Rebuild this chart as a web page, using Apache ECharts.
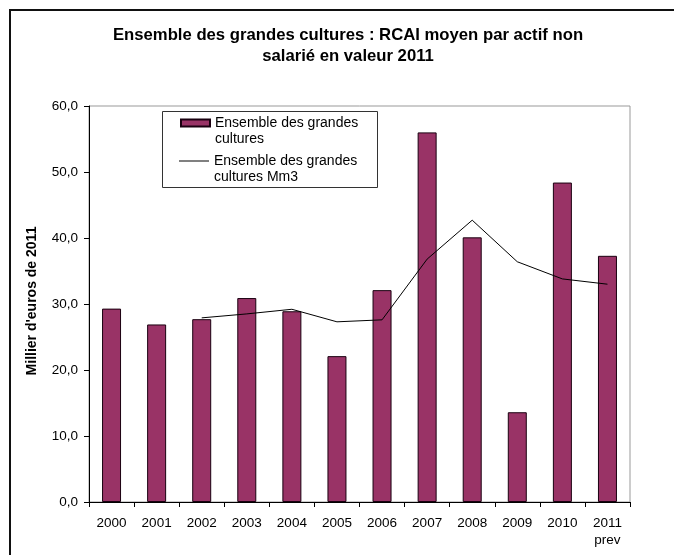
<!DOCTYPE html>
<html>
<head>
<meta charset="utf-8">
<script src="https://cdn.jsdelivr.net/npm/echarts@6/dist/echarts.min.js"></script>
<style>
  html, body { margin: 0; padding: 0; background: #fff; }
  #chart { width: 674px; height: 555px; }
</style>
</head>
<body>
<div id="chart"></div>
<script>
// valeurs
var years = ['2000', '2001', '2002', '2003', '2004', '2005', '2006', '2007', '2008', '2009', '2010', '2011\nprev'];
var rcai = [29.3, 26.9, 27.7, 30.9, 28.9, 22.1, 32.1, 56.0, 40.1, 13.6, 48.4, 37.3];
var rcaiMm3 = [null, null, 27.9, 28.5, 29.2, 27.3, 27.6, 36.8, 42.7, 36.4, 33.8, 33.0];
var yTicks = [0, 10, 20, 30, 40, 50, 60];

var font = 'Liberation Sans, Arial, sans-serif';
var nameBars = 'Ensemble des grandes cultures';
var nameLine = 'Ensemble des grandes cultures Mm3';

var chart = echarts.init(document.getElementById('chart'), null, { renderer: 'canvas' });

var legendText = {
  fontFamily: font,
  fontSize: 14,
  color: '#000',
  lineHeight: 16
};

chart.setOption({
  animation: false,
  backgroundColor: '#fff',
  title: {
    text: 'Ensemble des grandes cultures : RCAI moyen par actif non\nsalarié en valeur 2011',
    left: 348,
    top: 25,
    padding: 0,
    textAlign: 'center',
    textStyle: {
      fontFamily: font,
      fontSize: 16.7,
      fontWeight: 'bold',
      color: '#000',
      lineHeight: 21
    }
  },
  legend: [
    {
      data: [{ name: nameBars, icon: 'rect' }],
      left: 180,
      top: 99,
      padding: 0,
      itemWidth: 29,
      itemHeight: 7,
      // ligne vide en tête pour aligner le symbole sur la 1re ligne
      formatter: function () { return ' \nEnsemble des grandes\ncultures'; },
      textStyle: legendText
    },
    {
      data: [{ name: nameLine, icon: 'rect' }],
      left: 179,
      top: 137,
      padding: 0,
      itemWidth: 30,
      itemHeight: 1,
      formatter: function () { return ' \nEnsemble des grandes\ncultures Mm3'; },
      textStyle: legendText
    }
  ],
  graphic: [
    {
      type: 'rect',
      shape: { x: 10, y: 10, width: 700, height: 600 },
      style: { fill: null, stroke: '#111', lineWidth: 2 },
      silent: true
    },
    {
      type: 'rect',
      shape: { x: 162.5, y: 111.5, width: 215, height: 76 },
      style: { fill: null, stroke: '#333', lineWidth: 1 },
      silent: true
    }
  ],
  grid: {
    left: 89,
    right: 44,
    top: 106,
    bottom: 53,
    show: true,
    borderColor: '#999',
    borderWidth: 1,
    containLabel: false
  },
  xAxis: {
    type: 'category',
    data: years,
    boundaryGap: true,
    axisLine: { lineStyle: { color: '#000', width: 1 } },
    axisTick: { show: true, length: 5, lineStyle: { color: '#000' } },
    axisLabel: {
      margin: 13,
      fontFamily: font,
      fontSize: 13.5,
      lineHeight: 17,
      color: '#000',
      interval: 0
    },
    splitLine: { show: false }
  },
  yAxis: {
    type: 'value',
    min: 0,
    max: 60,
    interval: 10,
    name: "Millier d'euros de 2011",
    nameLocation: 'middle',
    nameGap: 50,
    nameTextStyle: {
      fontFamily: font,
      fontSize: 14,
      fontWeight: 'bold',
      color: '#000',
      padding: [0, 0, 0, 6]
    },
    axisLine: { show: true, lineStyle: { color: '#000', width: 1 } },
    axisTick: { show: true, length: 5, lineStyle: { color: '#000' } },
    axisLabel: {
      margin: 11,
      fontFamily: font,
      fontSize: 13.5,
      color: '#000',
      formatter: function (v) {
        return yTicks.indexOf(v) >= 0 ? v.toFixed(1).replace('.', ',') : '';
      }
    },
    splitLine: { show: false }
  },
  series: [
    {
      name: nameBars,
      type: 'bar',
      data: rcai,
      barWidth: 19,
      itemStyle: { color: '#993366', borderColor: '#1a0010', borderWidth: 1 }
    },
    {
      name: nameLine,
      type: 'line',
      data: rcaiMm3,
      symbol: 'none',
      connectNulls: false,
      lineStyle: { color: '#000', width: 1 },
      itemStyle: { color: '#000' }
    }
  ]
});
</script>
</body>
</html>
